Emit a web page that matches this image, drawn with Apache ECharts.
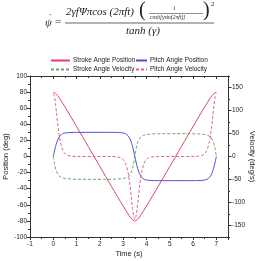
<!DOCTYPE html>
<html>
<head>
<meta charset="utf-8">
<script src="https://cdn.jsdelivr.net/npm/echarts@6/dist/echarts.min.js"></script>
<style>
  html, body { margin: 0; padding: 0; background: #fff; }
  #chart { width: 258px; height: 261px; }
</style>
</head>
<body>
<div id="chart"></div>
<script>
const strokePosT = [0, 0.125, 0.25, 0.5, 0.75, 1, 1.25, 1.5, 1.75, 2, 2.25, 2.5, 2.75, 3, 3.25, 3.375, 3.5,
  3.625, 3.75, 4, 4.25, 4.5, 4.75, 5, 5.25, 5.5, 5.75, 6, 6.25, 6.5, 6.75, 6.875, 7];
const strokePos = [80, 77.8, 73.1, 61.6, 49.6, 37.2, 24.9, 12.4, 0, -12.4, -24.9, -37.2, -49.6, -61.6, -73.1, -77.8, -80,
  -77.8, -73.1, -61.6, -49.6, -37.2, -24.9, -12.4, 0, 12.4, 24.9, 37.2, 49.6, 61.6, 73.1, 77.8, 80];

const strokeVelT = [0, 0.0625, 0.125, 0.25, 0.375, 0.5, 0.75, 1, 1.25, 1.75, 2.25, 2.5, 2.75, 3, 3.125, 3.25, 3.375, 3.4375, 3.5,
  3.5625, 3.625, 3.75, 3.875, 4, 4.25, 4.5, 4.75, 5.25, 5.75, 6, 6.25, 6.5, 6.625, 6.75, 6.875, 6.9375, 7];
const strokeVel = [0, -18.4, -31, -42.3, -46.2, -47.7, -49, -49.4, -49.6, -49.7, -49.6, -49.4, -49, -47.7, -46.2, -42.3, -31, -18.4, 0,
  18.4, 31, 42.3, 46.2, 47.7, 49, 49.4, 49.6, 49.7, 49.6, 49.4, 49, 47.7, 46.2, 42.3, 31, 18.4, 0];

const pitchT = [0, 0.05, 0.1, 0.15, 0.2, 0.25, 0.3, 0.4, 0.5, 0.6, 0.8, 1, 1.75, 2.5, 2.7, 2.9, 3, 3.1, 3.2, 3.25, 3.3, 3.35, 3.4, 3.45, 3.5,
  3.55, 3.6, 3.65, 3.7, 3.75, 3.8, 3.9, 4, 4.1, 4.3, 4.5, 5.25, 6, 6.2, 6.4, 6.5, 6.6, 6.7, 6.75, 6.8, 6.85, 6.9, 6.95, 7];
const pitchPos = [0, 6.6, 12.6, 17.6, 21.4, 24.2, 26.1, 28.3, 29.2, 29.6, 29.9, 30, 30, 30, 29.9, 29.6, 29.2, 28.3, 26.1, 24.2, 21.4, 17.6, 12.6, 6.6, 0,
  -6.6, -12.6, -17.6, -21.4, -24.2, -26.1, -28.3, -29.2, -29.6, -29.9, -30, -30, -30, -29.9, -29.6, -29.2, -28.3, -26.1, -24.2, -21.4, -17.6, -12.6, -6.6, 0];
const pitchVel = [137, 130.2, 112.3, 89.2, 66.2, 47, 32.2, 14.4, 6.3, 2.75, 0.6, 0.1, 0, -0.1, -0.6, -2.75, -6.3, -14.4, -32.2, -47, -66.2, -89.2, -112.3, -130.2, -137,
  -130.2, -112.3, -89.2, -66.2, -47, -32.2, -14.4, -6.3, -2.75, -0.6, -0.1, 0, 0.1, 0.6, 2.75, 6.3, 14.4, 32.2, 47, 66.2, 89.2, 112.3, 130.2, 137];

const velMajor = [-150, -100, -50, 0, 50, 100, 150];
const velMinor = [-175, -125, -75, -25, 25, 75, 125, 175];

const zip = (xs, ys) => xs.map((x, i) => [x, ys[i]]);

const chart = echarts.init(document.getElementById('chart'));
const axisCol = '#333';
const lblFont = { fontSize: 6.5, color: '#222', fontFamily: 'Liberation Sans' };
const nameFont = { fontSize: 7.5, color: '#222', fontFamily: 'Liberation Sans' };
const serif = 'Liberation Serif';

chart.setOption({
  animation: false,
  grid: { left: 30, right: 30, top: 76, bottom: 24, outerBoundsMode: 'none' },
  graphic: [
    { type: 'text', left: 45, top: 18, style: { text: 'ψ', font: 'italic 11px ' + serif, fill: '#222' } },
    { type: 'text', left: 48.5, top: 13, style: { text: '˙', font: '10px ' + serif, fill: '#222' } },
    { type: 'text', left: 55, top: 17, style: { text: '=', font: '11px ' + serif, fill: '#222' } },
    { type: 'text', left: 66, top: 7, style: { text: '2γfΨπcos (2πft)', font: 'italic 11px ' + serif, fill: '#222' } },
    { type: 'text', left: 139, top: 1, style: { text: '(', font: '20px ' + serif, fill: '#222' } },
    { type: 'text', left: 173, top: 6, style: { text: '1', font: 'italic 5.5px ' + serif, fill: '#222' } },
    { type: 'line', shape: { x1: 149, y1: 13.5, x2: 203, y2: 13.5 }, style: { stroke: '#222', lineWidth: 0.5 } },
    { type: 'text', left: 150, top: 14.5, style: { text: 'cosh[γsin(2πft)]', font: 'italic 5.5px ' + serif, fill: '#222' } },
    { type: 'text', left: 203, top: 1, style: { text: ')', font: '20px ' + serif, fill: '#222' } },
    { type: 'text', left: 211, top: 1, style: { text: '2', font: '7px ' + serif, fill: '#222' } },
    { type: 'line', shape: { x1: 65, y1: 23, x2: 214, y2: 23 }, style: { stroke: '#222', lineWidth: 0.7 } },
    { type: 'text', left: 126, top: 25.5, style: { text: 'tanh (γ)', font: 'italic 11px ' + serif, fill: '#222' } }
  ],
  legend: [
    {
      data: ['Stroke Angle Position', 'Stroke Angle Velocity'],
      orient: 'vertical', left: 50, top: 57, itemWidth: 19, itemHeight: 6, itemGap: 2, padding: 0,
      itemStyle: { opacity: 0 },
      textStyle: { fontSize: 6.5, color: '#222', fontFamily: 'Liberation Sans', padding: [0, 0, 0, -2] }
    },
    {
      data: ['Pitch Angle Position', 'Pitch Angle Velocity'],
      orient: 'vertical', left: 135, top: 57, itemWidth: 11, itemHeight: 6, itemGap: 2, padding: 0,
      itemStyle: { opacity: 0 },
      textStyle: { fontSize: 6.5, color: '#222', fontFamily: 'Liberation Sans', padding: [0, 0, 0, -2] }
    }
  ],
  xAxis: [
    {
      type: 'value', min: -1, max: 7.5, interval: 1,
      name: 'Time (s)', nameLocation: 'middle', nameGap: 13, nameMoveOverlap: false,
      nameTextStyle: nameFont,
      axisLine: { onZero: false, lineStyle: { color: axisCol } },
      axisTick: { length: 3, lineStyle: { color: axisCol } },
      minorTick: { show: true, splitNumber: 2, length: 2, lineStyle: { color: axisCol } },
      axisLabel: { ...lblFont, margin: 4, formatter: v => (Number.isInteger(v) ? v : '') },
      splitLine: { show: false }
    },
    {
      type: 'value', min: -1, max: 7.5, interval: 1, position: 'top',
      axisLine: { onZero: false, lineStyle: { color: axisCol } },
      axisTick: { inside: true, length: 3, lineStyle: { color: axisCol } },
      minorTick: { show: true, splitNumber: 2, length: 2, lineStyle: { color: axisCol } },
      axisLabel: { show: false },
      splitLine: { show: false }
    }
  ],
  yAxis: [
    {
      type: 'value', min: -100, max: 100, interval: 20,
      name: 'Position (deg)', nameLocation: 'middle', nameGap: 20, nameMoveOverlap: false,
      nameTextStyle: nameFont,
      axisLine: { show: true, onZero: false, lineStyle: { color: axisCol } },
      axisTick: { show: true, length: 3, lineStyle: { color: axisCol } },
      minorTick: { show: true, splitNumber: 2, length: 2, lineStyle: { color: axisCol } },
      axisLabel: { ...lblFont, margin: 3 },
      splitLine: { show: false }
    },
    {
      type: 'value', min: -175, max: 175, interval: 25, position: 'right',
      name: 'Velocity (deg/s)', nameLocation: 'middle', nameGap: 20, nameRotate: -90, nameMoveOverlap: false,
      nameTextStyle: nameFont,
      axisLine: { show: true, onZero: false, lineStyle: { color: axisCol } },
      axisTick: { show: true, length: 3.5, customValues: velMajor, lineStyle: { color: axisCol } },
      axisLabel: { ...lblFont, margin: 4, hideOverlap: false,
        formatter: v => (velMajor.indexOf(v) >= 0 ? String(v) : '') },
      splitLine: { show: false }
    },
    {
      type: 'value', min: -175, max: 175, interval: 25, position: 'right',
      axisLine: { show: false, onZero: false },
      axisTick: { show: true, length: 2, customValues: velMinor, lineStyle: { color: axisCol } },
      axisLabel: { show: false },
      splitLine: { show: false }
    }
  ],
  series: [
    {
      name: 'Stroke Angle Position', type: 'line', yAxisIndex: 0, smooth: 0.3,
      symbol: 'none', data: zip(strokePosT, strokePos),
      lineStyle: { color: '#dc4565', width: 1 }, itemStyle: { color: '#dc4565' }
    },
    {
      name: 'Pitch Angle Position', type: 'line', yAxisIndex: 0, smooth: 0.3,
      symbol: 'none', data: zip(pitchT, pitchPos),
      lineStyle: { color: '#5050cc', width: 1 }, itemStyle: { color: '#5050cc' }
    },
    {
      name: 'Stroke Angle Velocity', type: 'line', yAxisIndex: 1, smooth: 0.3,
      symbol: 'none', data: zip(strokeVelT, strokeVel),
      lineStyle: { color: '#6aa86a', width: 1, type: [3, 2] }, itemStyle: { color: '#6aa86a' }
    },
    {
      name: 'Pitch Angle Velocity', type: 'line', yAxisIndex: 1, smooth: 0.3,
      symbol: 'none', data: zip(pitchT, pitchVel),
      lineStyle: { color: '#d9609a', width: 1, type: [3, 2] }, itemStyle: { color: '#d9609a' }
    }
  ]
});
</script>
</body>
</html>
